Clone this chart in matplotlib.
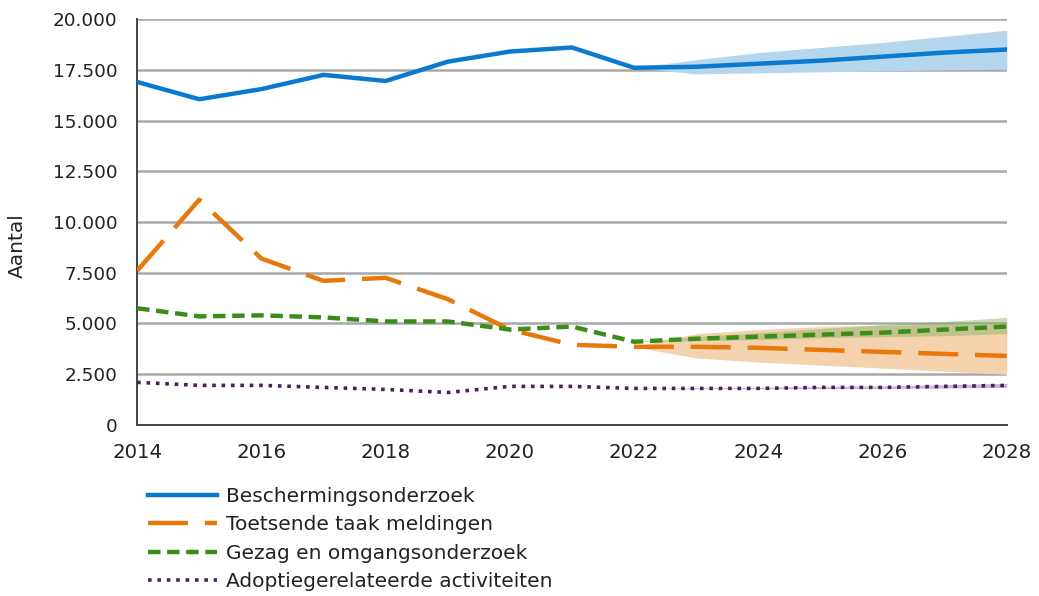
import matplotlib.pyplot as plt
from matplotlib.ticker import FuncFormatter

years = list(range(2014, 2029))
fc_years = list(range(2022, 2029))

bescherming = [16900, 16050, 16550, 17250, 16950, 17900, 18400, 18600, 17600,
               17650, 17800, 17950, 18150, 18350, 18500]
toetsend = [7600, 11100, 8200, 7100, 7250, 6200, 4700, 3950, 3850,
            3850, 3800, 3700, 3600, 3500, 3400]
gezag = [5750, 5350, 5400, 5300, 5100, 5100, 4700, 4850, 4100,
         4250, 4350, 4450, 4550, 4700, 4850]
adoptie = [2100, 1950, 1950, 1850, 1750, 1600, 1900, 1900, 1800,
           1800, 1800, 1850, 1850, 1900, 1950]

# forecast bands, 2022..2028
bescherming_lo = [17600, 17300, 17350, 17400, 17450, 17500, 17550]
bescherming_hi = [17600, 18000, 18350, 18600, 18850, 19150, 19450]
toetsend_lo = [3850, 3300, 3100, 2950, 2800, 2650, 2500]
toetsend_hi = [3850, 4500, 4700, 4850, 4900, 4950, 5000]
gezag_lo = [4100, 4150, 4200, 4300, 4350, 4400, 4500]
gezag_hi = [4100, 4350, 4550, 4750, 4950, 5100, 5300]
adoptie_lo = [1800, 1780, 1780, 1800, 1800, 1820, 1850]
adoptie_hi = [1800, 1830, 1850, 1900, 1920, 1980, 2050]

labels = ["Beschermingsonderzoek", "Toetsende taak meldingen",
          "Gezag en omgangsonderzoek", "Adoptiegerelateerde activiteiten"]

blue = "#0a7ad0"
orange = "#e8770c"
green = "#3b8d1a"
purple = "#4b1d63"

plt.rcParams["font.family"] = "DejaVu Sans"

fig = plt.figure(figsize=(10.39, 5.96), dpi=100)
ax = fig.add_axes([0.132, 0.287, 0.837, 0.681])

ax.fill_between(fc_years, bescherming_lo, bescherming_hi, color="#b4d6ef", lw=0, zorder=1)
ax.fill_between(fc_years, toetsend_lo, toetsend_hi, color="#f5d2ae", lw=0, zorder=1)
ax.fill_between(fc_years, gezag_lo, gezag_hi, color="#7fb060", alpha=0.45, lw=0, zorder=1)
ax.fill_between(fc_years, adoptie_lo, adoptie_hi, color="#c9b6d6", lw=0, zorder=1)

ax.plot(years, bescherming, color=blue, lw=3.2, label=labels[0], zorder=3)
ax.plot(years, toetsend, color=orange, lw=3.2, ls=(0, (9, 3.8)), label=labels[1], zorder=3)
ax.plot(years, gezag, color=green, lw=3.2, ls=(0, (2.8, 1.5)), label=labels[2], zorder=3)
ax.plot(years, adoptie, color=purple, lw=2.6, ls=(0, (1, 1.6)), label=labels[3], zorder=3)

ax.set_xlim(2014, 2028)
ax.set_ylim(0, 20000)
ax.set_xticks(range(2014, 2029, 2))
ax.set_yticks(range(0, 20001, 2500))
ax.yaxis.set_major_formatter(FuncFormatter(lambda v, p: f"{int(v):,}".replace(",", ".")))
ax.grid(axis="y", color="#a8a8a8", lw=1.8, zorder=0)
ax.set_axisbelow(True)
ax.tick_params(length=0, colors="#222222")
ax.tick_params(axis="y", labelsize=13.2, pad=14)
ax.tick_params(axis="x", labelsize=14.2, pad=13)
for side in ("top", "right"):
    ax.spines[side].set_visible(False)
for side in ("left", "bottom"):
    ax.spines[side].set_color("#444444")
    ax.spines[side].set_linewidth(1.4)

ax.set_ylabel("Aantal", fontsize=14.5, color="#222222")
ax.yaxis.label.set_verticalalignment("center")
ax.yaxis.set_label_coords(-0.138, 0.443)

fig.legend(loc="upper left", bbox_to_anchor=(0.1347, 0.197), frameon=False,
           fontsize=14.5, handlelength=3.45, labelspacing=0.47, handletextpad=0.4,
           borderaxespad=0, labelcolor="#222222")

fig.savefig("out.png", dpi=100)
